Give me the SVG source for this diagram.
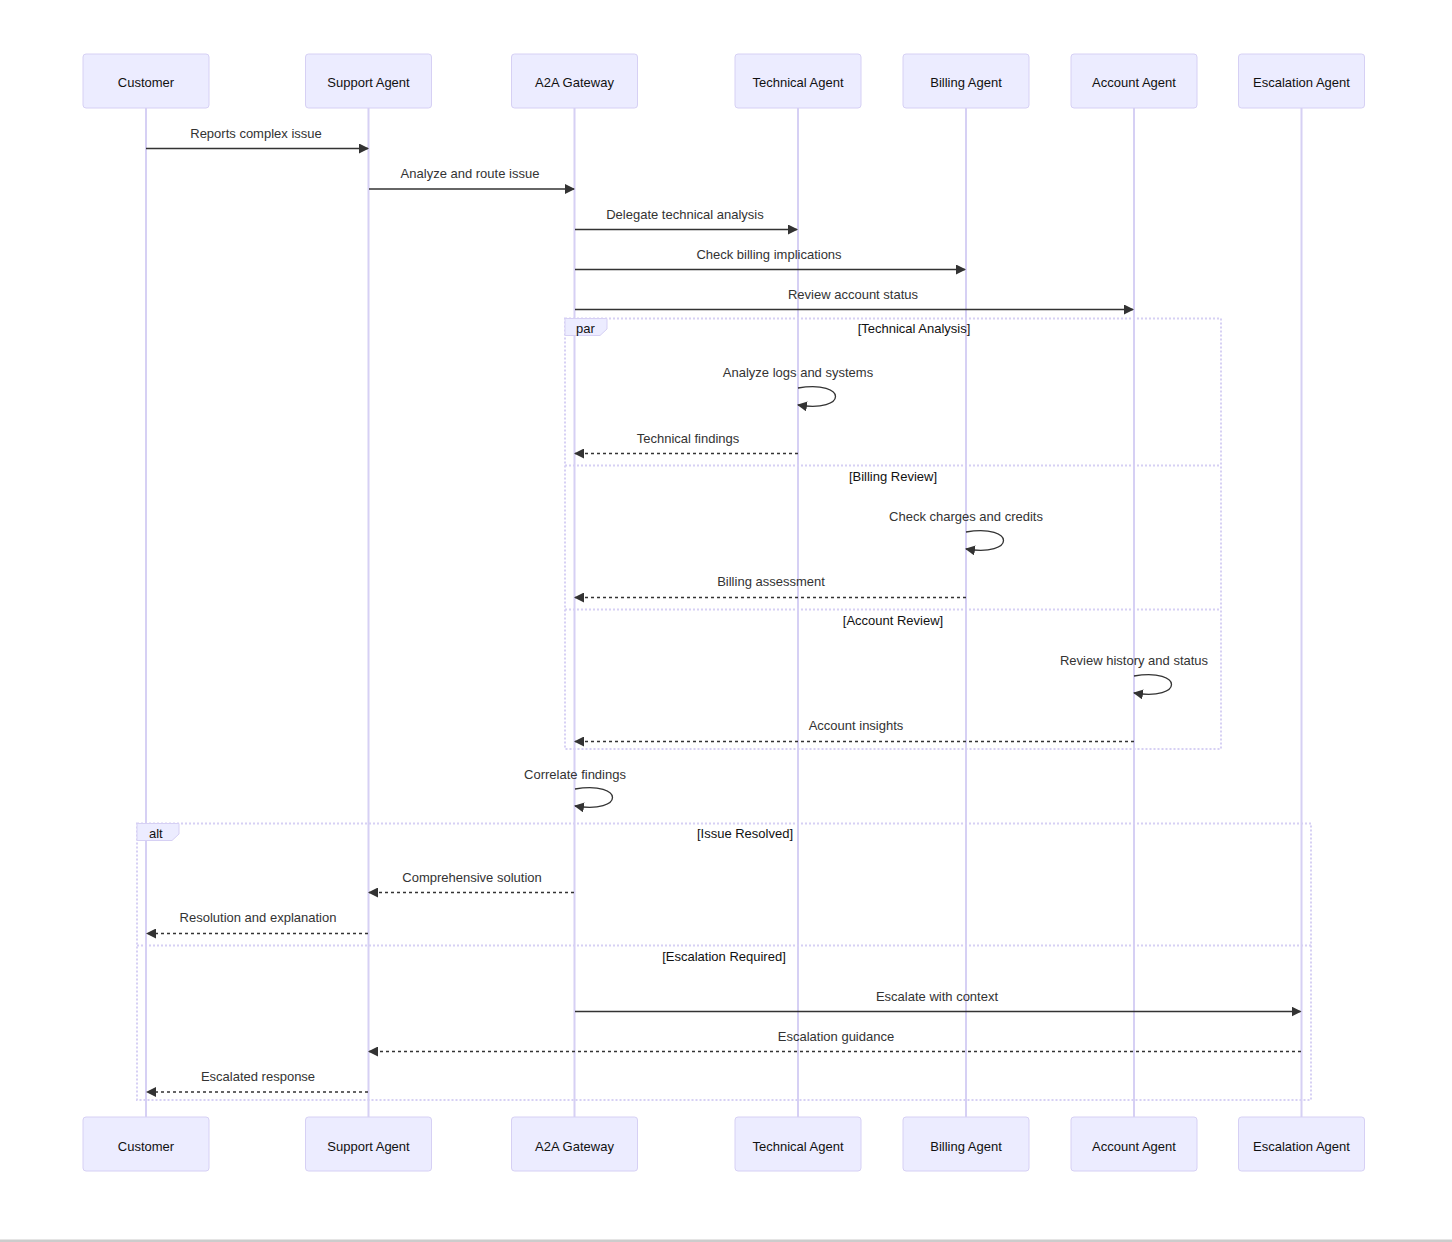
<svg xmlns="http://www.w3.org/2000/svg" width="1452" height="1242" viewBox="0 0 1452 1242">
<style>
text{font-family:"Liberation Sans","DejaVu Sans",Arial,sans-serif;font-size:13px;fill:#333;text-anchor:middle;dominant-baseline:central}
.actor rect{fill:#ECECFF;stroke:#d6d0f4;stroke-width:1}
.actor text{fill:#111}
.life{stroke:#d6d0f4;stroke-width:2}
.msg{stroke:#333;stroke-width:1.3;fill:none}
.dash{stroke-dasharray:3,3}
.loop{stroke:#d6d0f4;stroke-width:2;stroke-dasharray:2,2;fill:none}
.lbl{fill:#ECECFF;stroke:#d6d0f4;stroke-width:1}
.ltext{text-anchor:start;fill:#111}
.cond{fill:#111}
</style>
<defs>
<marker id="ah" viewBox="0 0 10 10" refX="9" refY="5" markerWidth="10" markerHeight="10" markerUnits="userSpaceOnUse" orient="auto">
<path d="M0,0 L10,5 L0,10 z" fill="#333"/>
</marker>
</defs>
<rect width="1452" height="1242" fill="#fff"/>
<rect x="0" y="1239.5" width="1452" height="2.5" fill="#cccccc"/>
<g id="lifelines">
<line class="life" x1="146" y1="108" x2="146" y2="1117"/>
<line class="life" x1="368.5" y1="108" x2="368.5" y2="1117"/>
<line class="life" x1="574.5" y1="108" x2="574.5" y2="1117"/>
<line class="life" x1="798" y1="108" x2="798" y2="1117"/>
<line class="life" x1="966" y1="108" x2="966" y2="1117"/>
<line class="life" x1="1134" y1="108" x2="1134" y2="1117"/>
<line class="life" x1="1301.5" y1="108" x2="1301.5" y2="1117"/>
</g>
<g id="frames">
<rect class="loop" x="565" y="318.5" width="656" height="430.5"/>
<line class="loop" x1="565" y1="465.5" x2="1221" y2="465.5"/>
<line class="loop" x1="565" y1="609.5" x2="1221" y2="609.5"/>
<polygon class="lbl" points="565,318.5 607,318.5 607,329 600,335.5 565,335.5"/>
<text class="ltext" x="576" y="328">par</text>
<text class="cond" x="914" y="328">[Technical Analysis]</text>
<text class="cond" x="893" y="476">[Billing Review]</text>
<text class="cond" x="893" y="620">[Account Review]</text>
<rect class="loop" x="137" y="823.5" width="1174" height="276.5"/>
<line class="loop" x1="137" y1="945.5" x2="1311" y2="945.5"/>
<polygon class="lbl" points="137,823.5 179,823.5 179,834 172,840.5 137,840.5"/>
<text class="ltext" x="149" y="833">alt</text>
<text class="cond" x="745" y="833">[Issue Resolved]</text>
<text class="cond" x="724" y="956">[Escalation Required]</text>
</g>
<g id="actors-top">
<g id="actor-customer" class="actor"><rect x="83" y="54" width="126" height="54" rx="3"/><text x="146" y="82">Customer</text></g>
<g id="actor-support" class="actor"><rect x="305.5" y="54" width="126" height="54" rx="3"/><text x="368.5" y="82">Support Agent</text></g>
<g id="actor-gateway" class="actor"><rect x="511.5" y="54" width="126" height="54" rx="3"/><text x="574.5" y="82">A2A Gateway</text></g>
<g id="actor-technical" class="actor"><rect x="735" y="54" width="126" height="54" rx="3"/><text x="798" y="82">Technical Agent</text></g>
<g id="actor-billing" class="actor"><rect x="903" y="54" width="126" height="54" rx="3"/><text x="966" y="82">Billing Agent</text></g>
<g id="actor-account" class="actor"><rect x="1071" y="54" width="126" height="54" rx="3"/><text x="1134" y="82">Account Agent</text></g>
<g id="actor-escalation" class="actor"><rect x="1238.5" y="54" width="126" height="54" rx="3"/><text x="1301.5" y="82">Escalation Agent</text></g>
</g>
<g id="actors-bottom">
<g id="actor-customer-b" class="actor"><rect x="83" y="1117" width="126" height="54" rx="3"/><text x="146" y="1146">Customer</text></g>
<g id="actor-support-b" class="actor"><rect x="305.5" y="1117" width="126" height="54" rx="3"/><text x="368.5" y="1146">Support Agent</text></g>
<g id="actor-gateway-b" class="actor"><rect x="511.5" y="1117" width="126" height="54" rx="3"/><text x="574.5" y="1146">A2A Gateway</text></g>
<g id="actor-technical-b" class="actor"><rect x="735" y="1117" width="126" height="54" rx="3"/><text x="798" y="1146">Technical Agent</text></g>
<g id="actor-billing-b" class="actor"><rect x="903" y="1117" width="126" height="54" rx="3"/><text x="966" y="1146">Billing Agent</text></g>
<g id="actor-account-b" class="actor"><rect x="1071" y="1117" width="126" height="54" rx="3"/><text x="1134" y="1146">Account Agent</text></g>
<g id="actor-escalation-b" class="actor"><rect x="1238.5" y="1117" width="126" height="54" rx="3"/><text x="1301.5" y="1146">Escalation Agent</text></g>
</g>
<g id="connectors">
<text x="256" y="133">Reports complex issue</text>
<line class="msg" x1="146" y1="148.5" x2="368" y2="148.5" marker-end="url(#ah)"/>
<text x="470" y="173">Analyze and route issue</text>
<line class="msg" x1="369" y1="189" x2="574" y2="189" marker-end="url(#ah)"/>
<text x="685" y="214">Delegate technical analysis</text>
<line class="msg" x1="575" y1="229.5" x2="797" y2="229.5" marker-end="url(#ah)"/>
<text x="769" y="254">Check billing implications</text>
<line class="msg" x1="575" y1="269.5" x2="965" y2="269.5" marker-end="url(#ah)"/>
<text x="853" y="294">Review account status</text>
<line class="msg" x1="575" y1="309.5" x2="1133" y2="309.5" marker-end="url(#ah)"/>

<text x="798" y="372">Analyze logs and systems</text>
<path class="msg" d="M798,388 C848,380 848,413 798,405" marker-end="url(#ah)"/>
<text x="688" y="438">Technical findings</text>
<line class="msg dash" x1="798" y1="453.5" x2="575" y2="453.5" marker-end="url(#ah)"/>

<text x="966" y="516">Check charges and credits</text>
<path class="msg" d="M966,532 C1016,524 1016,557 966,549" marker-end="url(#ah)"/>
<text x="771" y="581">Billing assessment</text>
<line class="msg dash" x1="966" y1="597.5" x2="575" y2="597.5" marker-end="url(#ah)"/>

<text x="1134" y="660">Review history and status</text>
<path class="msg" d="M1134,676 C1184,668 1184,701 1134,693" marker-end="url(#ah)"/>
<text x="856" y="725">Account insights</text>
<line class="msg dash" x1="1134" y1="741.5" x2="575" y2="741.5" marker-end="url(#ah)"/>

<text x="575" y="774">Correlate findings</text>
<path class="msg" d="M575,789 C625,781 625,814 575,806" marker-end="url(#ah)"/>

<text x="472" y="877">Comprehensive solution</text>
<line class="msg dash" x1="574" y1="892.5" x2="369" y2="892.5" marker-end="url(#ah)"/>
<text x="258" y="917">Resolution and explanation</text>
<line class="msg dash" x1="368" y1="933.5" x2="147" y2="933.5" marker-end="url(#ah)"/>

<text x="937" y="996">Escalate with context</text>
<line class="msg" x1="575" y1="1011.5" x2="1300.5" y2="1011.5" marker-end="url(#ah)"/>
<text x="836" y="1036">Escalation guidance</text>
<line class="msg dash" x1="1301" y1="1051.5" x2="369" y2="1051.5" marker-end="url(#ah)"/>
<text x="258" y="1076">Escalated response</text>
<line class="msg dash" x1="368" y1="1092" x2="147" y2="1092" marker-end="url(#ah)"/>
</g>
</svg>
